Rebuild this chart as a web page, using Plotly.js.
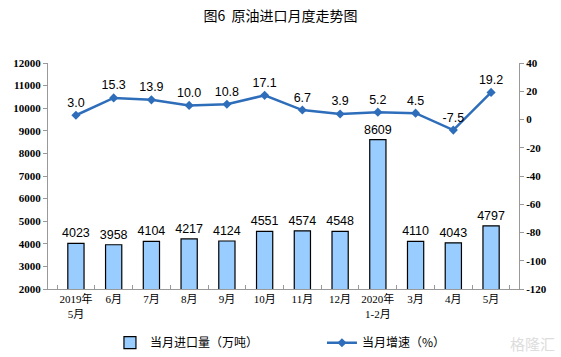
<!DOCTYPE html>
<html><head><meta charset="utf-8">
<script src="https://cdn.plot.ly/plotly-3.0.1.min.js"></script>
<style>html,body{margin:0;padding:0;background:#fff}#chart{width:561px;height:357px}</style>
</head><body><div id="chart"></div>
<script>
const categories = ["2019年<br>5月","6月","7月","8月","9月","10月","11月","12月","2020年<br>1-2月","3月","4月","5月"];
const importVolume = [4023,3958,4104,4217,4124,4551,4574,4548,8609,4110,4043,4797];
const growthRate = [3.0,15.3,13.9,10.0,10.8,17.1,6.7,3.9,5.2,4.5,-7.5,19.2];
const rightTickVals = [-120,-100,-80,-60,-40,-20,0,20,40];
const rightTickText = ["-120","-100","-80","-60","-40","-20","0","20","40"];

const serif = "Liberation Serif, Noto Sans CJK SC, serif";
const cjk = "Noto Sans CJK SC, sans-serif";

const traces = [
  {
    type: "bar", name: "当月进口量（万吨）", x: categories, y: importVolume,
    marker: {color: "#99CCFF", line: {color: "#000000", width: 1.2}},
    width: 0.43,
    text: importVolume.map(v => String(v)), textposition: "outside", constraintext: "none",
    textfont: {family: "Liberation Sans, Arial", size: 12.5, color: "#000"},
    cliponaxis: false, yaxis: "y"
  },
  {
    type: "scatter", mode: "lines+markers+text", name: "当月增速（%）", x: categories, y: growthRate,
    line: {color: "#2E6DBA", width: 2.5},
    marker: {symbol: "diamond", size: 7, color: "#2E6DBA"},
    text: growthRate.map(v => v.toFixed(1)), textposition: "top center",
    textfont: {family: "Liberation Sans, Arial", size: 12.5, color: "#000"},
    cliponaxis: false, yaxis: "y2"
  }
];

const layout = {
  width: 561, height: 357,
  margin: {l: 48, r: 42, t: 63, b: 68},
  paper_bgcolor: "#fff", plot_bgcolor: "#fff",
  title: {text: "图6  原油进口月度走势图", x: 0.5, xanchor: "center", y: 0.955, yanchor: "middle",
          font: {family: cjk, size: 14, color: "#000"}},
  showlegend: true,
  legend: {orientation: "h", xref: "container", yref: "container", x: 0.196, xanchor: "left",
           y: 0.04, yanchor: "middle",
           entrywidth: 167, entrywidthmode: "pixels",
           font: {family: cjk, size: 12, color: "#000"}, itemwidth: 30, traceorder: "normal"},
  xaxis: {type: "category", automargin: false, showline: true, linecolor: "#999", linewidth: 1,
          ticks: "inside", tickson: "boundaries", ticklen: 4, tickcolor: "#999", tickangle: 0,
          tickfont: {family: serif, size: 11, color: "#000"}, showgrid: false, zeroline: false},
  yaxis: {range: [2000, 12000], dtick: 1000, tickformat: "d", automargin: false, showline: true,
          linecolor: "#999", linewidth: 1,
          ticks: "outside", ticklen: 4, tickcolor: "#999", showgrid: false, zeroline: false,
          tickfont: {family: serif, size: 11, color: "#000", weight: "bold"}},
  yaxis2: {range: [-120, 40], tickmode: "array", tickvals: rightTickVals, ticktext: rightTickText,
           automargin: false, overlaying: "y", side: "right", showline: true,
           linecolor: "#999", linewidth: 1, ticks: "outside", ticklen: 4, tickcolor: "#999",
           showgrid: false, zeroline: false,
           tickfont: {family: serif, size: 11, color: "#000", weight: "bold"}},
  annotations: [
    {text: "格隆汇", xref: "paper", yref: "paper", x: 1.08, y: -0.239, xanchor: "right", yanchor: "middle",
     showarrow: false, font: {family: cjk, size: 15, color: "#dddddd"}}
  ]
};

Plotly.newPlot("chart", traces, layout, {displayModeBar: false, staticPlot: true});
</script></body></html>
